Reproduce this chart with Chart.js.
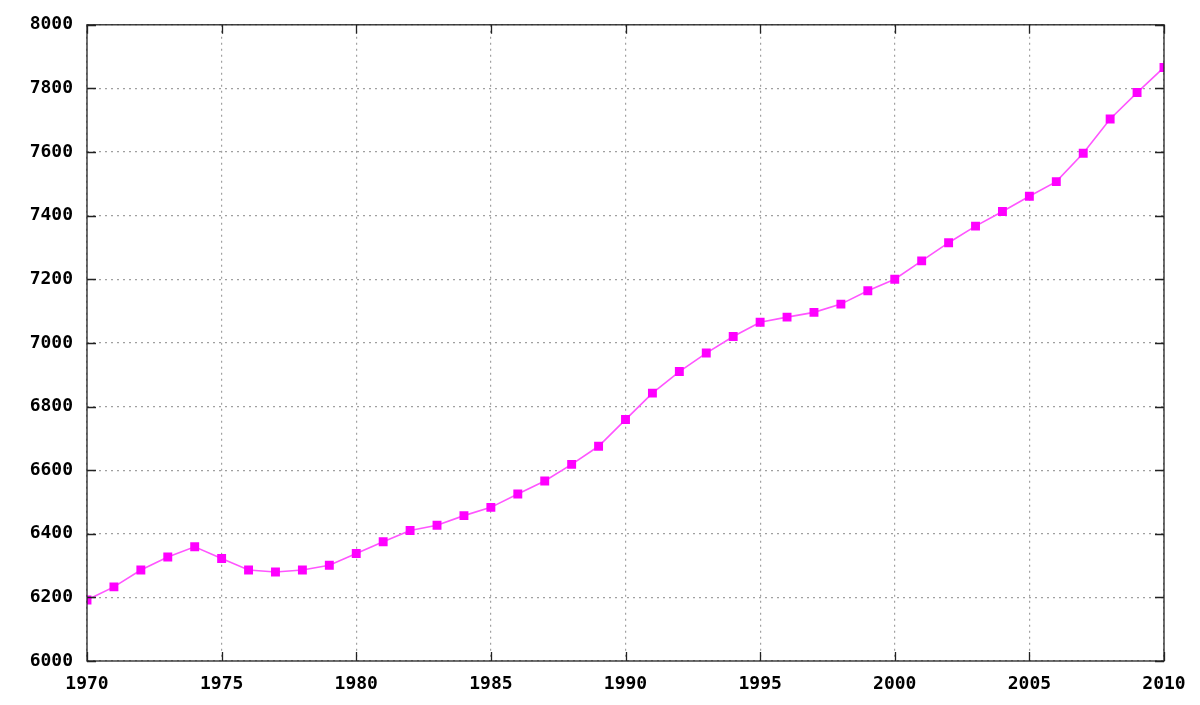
<!DOCTYPE html>
<html>
<head>
<meta charset="utf-8">
<script src="https://cdn.jsdelivr.net/npm/chart.js@4/dist/chart.umd.min.js"></script>
<style>
html,body{margin:0;padding:0;background:#fff;}
#wrap{width:1200px;height:705px;position:relative;}
</style>
</head>
<body>
<div id="wrap"><canvas id="c" width="1200" height="705"></canvas></div>
<script>
const years = [1970,1971,1972,1973,1974,1975,1976,1977,1978,1979,1980,1981,1982,1983,1984,1985,1986,1987,1988,1989,1990,1991,1992,1993,1994,1995,1996,1997,1998,1999,2000,2001,2002,2003,2004,2005,2006,2007,2008,2009,2010];
const population = [6192,6233,6286,6327,6359,6322,6286,6280,6286,6301,6338,6375,6410,6427,6457,6483,6525,6566,6618,6675,6759,6842,6910,6968,7020,7065,7081,7096,7122,7164,7200,7258,7315,7367,7413,7461,7507,7596,7704,7787,7866];
const xTicks = [1970,1975,1980,1985,1990,1995,2000,2005,2010];
const yTicks = [6000,6200,6400,6600,6800,7000,7200,7400,7600,7800,8000];

const points = years.map((y,i)=>({x:y,y:population[i]}));

const frame = {
  id:'frame',
  afterDatasetsDraw(chart){
    const {ctx, chartArea:a, scales:{x,y}} = chart;
    ctx.save();
    ctx.strokeStyle = '#222';
    ctx.lineWidth = 1.3;
    ctx.strokeRect(a.left, a.top, a.right-a.left, a.bottom-a.top);
    const t = 9;
    ctx.beginPath();
    xTicks.forEach(v=>{
      const px = Math.round(x.getPixelForValue(v))+0.5;
      ctx.moveTo(px,a.bottom); ctx.lineTo(px,a.bottom-t);
      ctx.moveTo(px,a.top); ctx.lineTo(px,a.top+t);
    });
    yTicks.forEach(v=>{
      const py = Math.round(y.getPixelForValue(v))+0.5;
      ctx.moveTo(a.left,py); ctx.lineTo(a.left+t,py);
      ctx.moveTo(a.right,py); ctx.lineTo(a.right-t,py);
    });
    ctx.stroke();
    ctx.restore();
  }
};

const font = {family:"'DejaVu Sans Mono', monospace", size:18, weight:'bold'};

new Chart(document.getElementById('c'), {
  type:'line',
  data:{datasets:[{
    data:points,
    borderColor:'#ff55ff',
    borderWidth:1.6,
    backgroundColor:'#ff00ff',
    pointBackgroundColor:'#ff00ff',
    pointBorderColor:'#ff00ff',
    pointBorderWidth:0,
    pointStyle:'rect',
    pointRadius:6.3,
    tension:0
  }]},
  options:{
    responsive:false,
    animation:false,
    events:[],
    layout:{padding:{left:0,right:36,top:24,bottom:0}},
    plugins:{legend:{display:false},tooltip:{enabled:false}},
    scales:{
      x:{
        type:'linear', min:1970, max:2010,
        afterBuildTicks(s){ s.ticks = xTicks.map(v=>({value:v})); },
        afterFit(s){ s.height = 44; },
        border:{display:false, dash:[2,4]},
        grid:{color:'#a0a0a0', lineWidth:1.2, drawTicks:false},
        ticks:{color:'#000', font, padding:13, maxRotation:0, autoSkip:false, callback:v=>String(v)}
      },
      y:{
        min:6000, max:8000,
        afterBuildTicks(s){ s.ticks = yTicks.map(v=>({value:v})); },
        afterFit(s){ s.width = 87; },
        border:{display:false, dash:[2,4]},
        grid:{color:'#a0a0a0', lineWidth:1.2, drawTicks:false},
        ticks:{color:'#000', font, padding:14, callback:v=>String(v)}
      }
    }
  },
  plugins:[frame]
});
</script>
</body>
</html>
